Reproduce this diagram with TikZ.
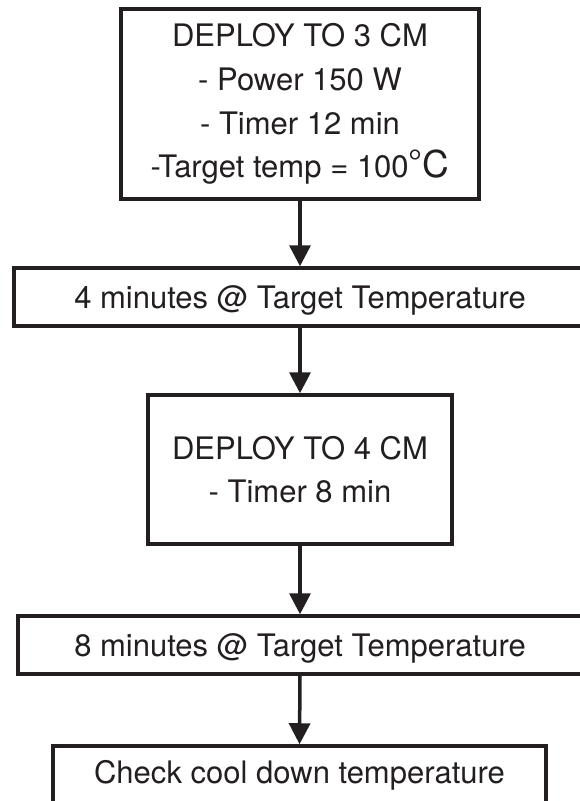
\documentclass[tikz,border=0pt]{standalone}
\usepackage{fontspec}
\setmainfont{TeX Gyre Heros}
\usetikzlibrary{arrows.meta}
\definecolor{ink}{HTML}{231F20}
\begin{document}
\begin{tikzpicture}[x=1pt,y=-1pt,
  box/.style={draw=ink, text=ink, line width=3.5pt, inner sep=0pt, align=center,
    font=\fontsize{31}{43.7}\selectfont},
  oneline/.style={text height=22pt, text depth=0pt},
  flow/.style={draw=ink, line width=3.5pt, -{Triangle[width=21pt,length=21pt]}}]
\useasboundingbox (0,0) rectangle (579,801);
\fill[white] (0,0) rectangle (579,801);
\node[box, minimum width=358pt, minimum height=190pt] (b1) at (300,104)
  {DEPLOY TO 3 CM\\- Power 150 W\\- Timer 12 min\\-Target temp = 100\raisebox{3pt}{\fontsize{35}{35}\selectfont °}{\fontsize{37}{37}\selectfont C}};
\node[box, oneline, minimum width=572pt, minimum height=58pt] (b2) at (300,297)
  {4 minutes @ Target Temperature};
\node[box, minimum width=304pt, minimum height=149pt] (b3) at (300,469.5)
  {DEPLOY TO 4 CM\\- Timer 8 min};
\node[box, oneline, minimum width=564pt, minimum height=58pt] (b4) at (300,645)
  {8 minutes @ Target Temperature};
\node[box, text height=17pt, text depth=0pt, minimum width=493pt, minimum height=58pt] (b5) at (299.5,775)
  {Check cool down temperature};
\draw[flow] (b1.south) -- (b2.north);
\draw[flow] (b2.south) -- (b3.north);
\draw[flow] (b3.south) -- (b4.north);
\draw[flow] (b4.south) -- (b5.north);
\end{tikzpicture}
\end{document}
